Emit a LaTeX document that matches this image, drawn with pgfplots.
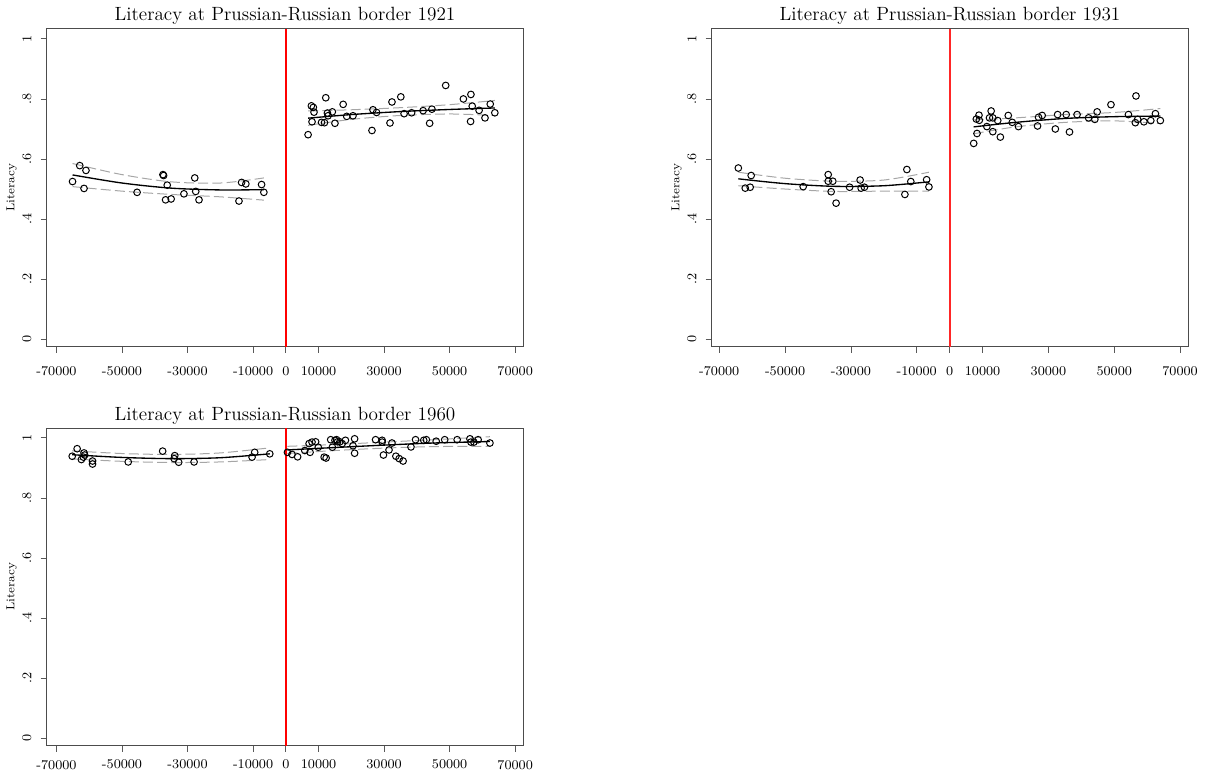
\documentclass[border=0pt]{standalone}
\usepackage{xcolor}
\usepackage{pgfplots}
\pgfplotsset{compat=1.18}
\usepackage{pgfplotstable}

% ---------- 1921 ----------
\pgfplotstableread{
x y
-65100 0.525
-62900 0.578
-61000 0.562
-61600 0.502
-45400 0.489
-37500 0.548
-37300 0.545
-36200 0.513
-36700 0.464
-35000 0.467
-31100 0.484
-27800 0.537
-27500 0.492
-26500 0.464
-14300 0.460
-13500 0.522
-12200 0.517
-7400 0.515
-6700 0.489
6800 0.681
7800 0.777
8400 0.772
8600 0.756
8000 0.724
10900 0.722
11800 0.721
12200 0.804
12700 0.753
12900 0.744
14200 0.757
15000 0.719
17500 0.782
18600 0.742
20500 0.744
26300 0.695
26600 0.764
27700 0.755
31800 0.720
32400 0.790
35100 0.807
36100 0.751
38400 0.754
41900 0.761
43900 0.719
44600 0.766
48800 0.845
54200 0.800
56500 0.815
56900 0.776
56400 0.725
59000 0.762
60800 0.737
62400 0.783
63800 0.754
}\ptA
\pgfplotstableread{
x y
-65100 0.547
-50000 0.520
-35000 0.503
-20000 0.497
-6700 0.498
}\fitAl
\pgfplotstableread{
x y
-65100 0.585
-50000 0.548
-35000 0.524
-20000 0.520
-6700 0.537
}\upAl
\pgfplotstableread{
x y
-65100 0.508
-50000 0.493
-35000 0.482
-20000 0.474
-6700 0.463
}\loAl
\pgfplotstableread{
x y
6800 0.736
20000 0.748
35000 0.758
50000 0.765
63800 0.770
}\fitAr
\pgfplotstableread{
x y
6800 0.760
20000 0.764
35000 0.771
50000 0.781
63800 0.795
}\upAr
\pgfplotstableread{
x y
6800 0.712
20000 0.732
35000 0.745
50000 0.750
63800 0.745
}\loAr

% ---------- 1931 ----------
\pgfplotstableread{
x y
-64200 0.570
-60300 0.545
-62100 0.503
-60600 0.506
-44500 0.508
-36900 0.548
-36900 0.526
-35500 0.526
-36000 0.491
-34500 0.453
-30400 0.506
-27200 0.530
-26900 0.503
-25900 0.506
-13600 0.482
-13000 0.565
-11800 0.525
-7000 0.531
-6300 0.507
7300 0.652
8300 0.685
8100 0.733
8900 0.746
9000 0.729
11300 0.708
12100 0.737
12600 0.760
13100 0.737
13100 0.691
14600 0.728
15400 0.673
17800 0.745
19000 0.722
20900 0.708
26700 0.710
27000 0.739
28100 0.745
32100 0.700
32800 0.748
35400 0.748
36400 0.690
38700 0.748
42200 0.737
44100 0.732
44800 0.757
49000 0.781
54300 0.748
56600 0.810
56400 0.721
57100 0.732
59000 0.724
61100 0.728
62500 0.751
64000 0.728
}\ptB
\pgfplotstableread{
x y
-64200 0.534
-50000 0.518
-35000 0.509
-20000 0.511
-6300 0.524
}\fitBl
\pgfplotstableread{
x y
-64200 0.556
-50000 0.536
-35000 0.526
-20000 0.530
-6300 0.556
}\upBl
\pgfplotstableread{
x y
-64200 0.511
-50000 0.500
-35000 0.492
-20000 0.493
-6300 0.493
}\loBl
\pgfplotstableread{
x y
7300 0.707
20000 0.722
35000 0.735
50000 0.741
64000 0.743
}\fitBr
\pgfplotstableread{
x y
7300 0.730
20000 0.737
35000 0.748
50000 0.755
64000 0.768
}\upBr
\pgfplotstableread{
x y
7300 0.684
20000 0.707
35000 0.722
50000 0.727
64000 0.718
}\loBr

% ---------- 1960 ----------
\pgfplotstableread{
x y
-65200 0.939
-63700 0.964
-62400 0.928
-61600 0.950
-61400 0.943
-61800 0.936
-59000 0.923
-59000 0.913
-48100 0.920
-37600 0.956
-33900 0.941
-34100 0.931
-32700 0.919
-28000 0.920
-10300 0.936
-9500 0.952
-4900 0.947
500 0.952
1900 0.945
3600 0.937
5800 0.958
7400 0.952
7100 0.981
8000 0.986
9100 0.987
9900 0.969
11700 0.936
12300 0.933
13700 0.994
14200 0.969
15000 0.992
15500 0.994
15800 0.987
16500 0.987
17200 0.981
18200 0.992
20500 0.974
21000 0.997
21000 0.949
27400 0.994
29400 0.992
29400 0.986
29800 0.943
31500 0.960
32400 0.983
33600 0.939
34600 0.931
35800 0.923
38200 0.970
39600 0.994
42100 0.992
42900 0.994
45900 0.989
48500 0.994
52300 0.994
56200 0.997
56500 0.986
57400 0.986
58700 0.994
62300 0.983
}\ptC
\pgfplotstableread{
x y
-65200 0.944
-50000 0.935
-35000 0.931
-20000 0.934
-4900 0.947
}\fitCl
\pgfplotstableread{
x y
-65200 0.957
-50000 0.948
-35000 0.945
-20000 0.950
-4900 0.967
}\upCl
\pgfplotstableread{
x y
-65200 0.930
-50000 0.922
-35000 0.918
-20000 0.920
-4900 0.928
}\loCl
\pgfplotstableread{
x y
500 0.960
15000 0.968
30000 0.976
45000 0.983
62300 0.988
}\fitCr
\pgfplotstableread{
x y
500 0.972
15000 0.978
30000 0.986
45000 0.994
62300 1.004
}\upCr
\pgfplotstableread{
x y
500 0.948
15000 0.958
30000 0.966
45000 0.971
62300 0.972
}\loCr

\definecolor{refred}{rgb}{1,0,0}

\pgfplotsset{
  litstyle/.style={
    scale only axis, width=286pt, height=190.6pt,
    xmin=-73000, xmax=72500, ymin=-0.025, ymax=1.033,
    xtick={-70000,-50000,-30000,-10000,0,10000,30000,50000,70000},
    xticklabels={-70000,-50000,-30000,-10000,0,10000,30000,50000,70000},
    ytick={0,0.2,0.4,0.6,0.8,1}, yticklabels={0,.2,.4,.6,.8,1},
    scaled x ticks=false,
    tick align=outside, xtick pos=bottom, ytick pos=left,
    major tick length=3.6pt,
    tick style={black!65, line width=0.5pt},
    axis line style={black!70, line width=0.6pt},
    ticklabel style={font=\fontsize{8}{9}\selectfont},
    yticklabel style={rotate=90, anchor=south},
    yticklabel shift=2pt,
    xticklabel shift=5pt,
    ylabel={Literacy},
    ylabel style={font=\fontsize{7}{8}\selectfont, at={(axis description cs:-0.0735,0.5)}, anchor=center},
    title style={font=\fontsize{11.5}{13}\selectfont, at={(0.5,1)}, anchor=base, yshift=-1.2pt},
  },
  pts/.style={only marks, mark=o, mark size=2.0pt, black, mark options={line width=0.6pt}},
  fit/.style={black, line width=0.8pt, smooth, no marks},
  ci/.style={black!35, line width=0.6pt, dash pattern=on 6pt off 2.5pt, smooth, no marks},
}

\begin{document}
\begin{tikzpicture}
\useasboundingbox (0,0) rectangle (723pt,464.4pt);

\begin{axis}[litstyle, at={(28pt,256.4pt)}, anchor=south west,
  title={Literacy at Prussian-Russian border 1921}]
  \addplot [ci] table {\upAl};
  \addplot [ci] table {\loAl};
  \addplot [ci] table {\upAr};
  \addplot [ci] table {\loAr};
  \addplot [fit] table {\fitAl};
  \addplot [fit] table {\fitAr};
  \addplot [pts] table {\ptA};
  \addplot [refred, line width=1pt, no marks] coordinates {(0,-0.025) (0,1.033)};
\end{axis}

\begin{axis}[litstyle, at={(427pt,256.4pt)}, anchor=south west, xmin=-72300,
  title={Literacy at Prussian-Russian border 1931}]
  \addplot [ci] table {\upBl};
  \addplot [ci] table {\loBl};
  \addplot [ci] table {\upBr};
  \addplot [ci] table {\loBr};
  \addplot [fit] table {\fitBl};
  \addplot [fit] table {\fitBr};
  \addplot [pts] table {\ptB};
  \addplot [refred!85, line width=1.1pt, no marks] coordinates {(0,-0.025) (0,1.033)};
\end{axis}

\begin{axis}[litstyle, at={(28pt,17pt)}, anchor=south west, xticklabel shift=1.5pt,
  title={Literacy at Prussian-Russian border 1960}]
  \addplot [ci] table {\upCl};
  \addplot [ci] table {\loCl};
  \addplot [ci] table {\upCr};
  \addplot [ci] table {\loCr};
  \addplot [fit] table {\fitCl};
  \addplot [fit] table {\fitCr};
  \addplot [pts] table {\ptC};
  \addplot [refred, line width=1pt, no marks] coordinates {(0,-0.025) (0,1.033)};
\end{axis}
\end{tikzpicture}
\end{document}
